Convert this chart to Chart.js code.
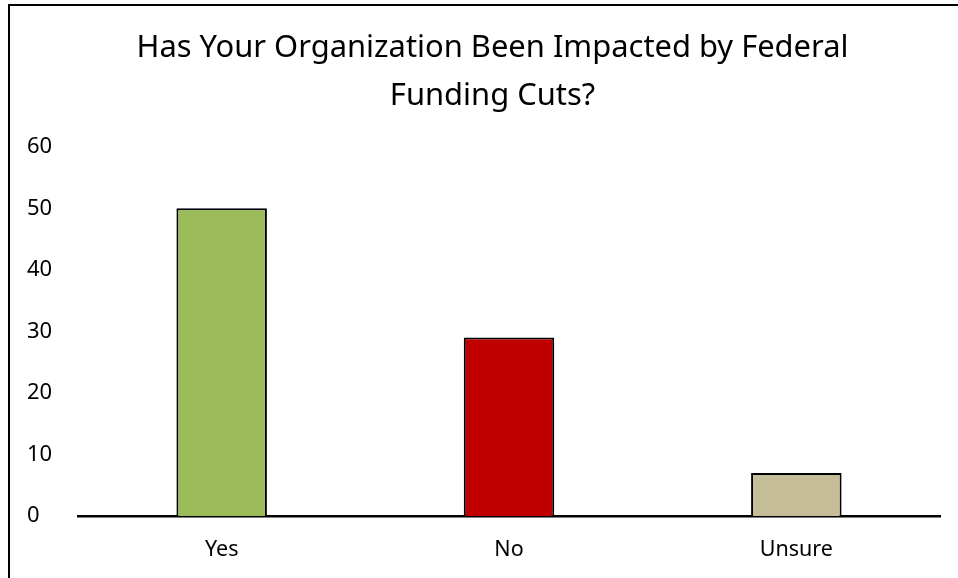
<!DOCTYPE html>
<html>
<head>
<meta charset="utf-8">
<script src="https://cdn.jsdelivr.net/npm/chart.js@4"></script>
<style>
  html, body { margin: 0; padding: 0; background: #fff; overflow: hidden; width: 958px; height: 578px; }
  #frame {
    position: absolute; left: 8px; top: 4px;
    width: 966px; height: 572px;
    border-top: 2px solid #000; border-left: 2px solid #000;
  }
  #chart { display: block; }
</style>
</head>
<body>
<div id="frame"><canvas id="chart" width="966" height="572"></canvas></div>
<script>
const categories = ['Yes', 'No', 'Unsure'];
const responses = [50, 29, 7];
const barColors = ['#9BBB59', '#C00000', '#C4BD97'];
const yTicks = [0, 10, 20, 30, 40, 50, 60];
const titleLines = ['Has Your Organization Been Impacted by Federal', 'Funding Cuts?'];

const fontFamily = '"Noto Sans", "Open Sans", sans-serif';

new Chart(document.getElementById('chart').getContext('2d'), {
    type: 'bar',
    data: {
        labels: categories,
        datasets: [{
            data: responses,
            backgroundColor: barColors,
            borderColor: '#000',
            borderWidth: 2,
            borderSkipped: 'bottom',
            barPercentage: 0.315,
            categoryPercentage: 1
        }]
    },
    options: {
        responsive: false,
        animation: false,
        layout: { padding: { left: 17, right: 18, top: 0, bottom: 0 } },
        plugins: {
            legend: { display: false },
            tooltip: { enabled: false },
            title: {
                display: true,
                text: titleLines,
                color: '#000',
                font: { family: fontFamily, size: 30.9, weight: 'normal', lineHeight: 1.55 },
                padding: { top: 18, bottom: 27 }
            }
        },
        scales: {
            x: {
                grid: { display: false, drawTicks: false },
                border: { display: true, color: '#000', width: 2.5 },
                ticks: { color: '#000', padding: 21, font: { family: fontFamily, size: 21.5 } },
                afterFit: s => { s.height = 62; }
            },
            y: {
                min: yTicks[0],
                max: yTicks[yTicks.length - 1],
                afterBuildTicks: s => { s.ticks = yTicks.map(v => ({ value: v })); },
                grid: { display: false, drawTicks: false },
                border: { display: false },
                ticks: { color: '#000', crossAlign: 'far', padding: 0, font: { family: fontFamily, size: 22 } },
                afterFit: s => { s.width = 51; }
            },
            // empty spacer on the right so the plot ends where the original does
            yRight: {
                position: 'right',
                grid: { display: false, drawTicks: false },
                border: { display: false },
                ticks: { display: false },
                afterFit: s => { s.width = 18; }
            }
        }
    }
});
</script>
</body>
</html>
